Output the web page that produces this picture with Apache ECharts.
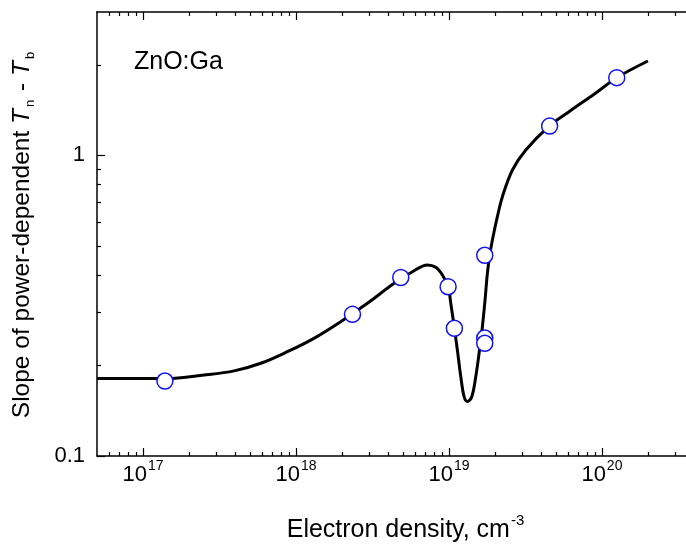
<!DOCTYPE html>
<html>
<head>
<meta charset="utf-8">
<script src="https://cdn.jsdelivr.net/npm/echarts@6/dist/echarts.min.js"></script>
<style>
  html, body { margin: 0; padding: 0; background: #ffffff; }
  #chart { width: 686px; height: 544px; }
</style>
</head>
<body>
<div id="chart"></div>
<script>
// Fitted curve: electron density (cm^-3) vs. slope of power-dependent Tn - Tb
const curveDensity = [
  5e16, 8.1e16, 1.42e17, 2.51e17, 3.94e17, 5.89e17, 8.78e17, 1.31e18, 1.96e18,
  2.93e18, 4.38e18, 5.77e18, 7.23e18, 8.2e18, 9.06e18, 9.87e18, 1.028e19,
  1.085e19, 1.135e19, 1.195e19, 1.256e19, 1.319e19, 1.41e19, 1.497e19,
  1.574e19, 1.654e19, 1.722e19, 1.783e19, 1.849e19, 1.923e19, 2.073e19, 2.236e19,
  2.6e19, 3.18e19, 4.52e19, 6.1e19, 9.12e19, 1.25e20, 2.0e20
];
const curveSlope = [
  0.181, 0.181, 0.181, 0.186, 0.192, 0.2035, 0.2223, 0.2463, 0.2798,
  0.3221, 0.3754, 0.4103, 0.4318, 0.4242, 0.400, 0.3657, 0.322,
  0.266, 0.2253, 0.1836, 0.1575, 0.1518, 0.1575, 0.1836,
  0.2196, 0.2692, 0.3304, 0.4053, 0.4664, 0.5232, 0.6254, 0.729,
  0.894, 1.042, 1.252, 1.398, 1.613, 1.814, 2.061
];

// Measured samples
const pointDensity = [1.39e17, 2.34e18, 4.84e18, 9.87e18, 1.085e19, 1.714e19, 1.714e19, 1.714e19, 4.55e19, 1.25e20];
const pointSlope   = [0.1776, 0.296, 0.3925, 0.3657, 0.266, 0.4653, 0.2469, 0.2371, 1.252, 1.814];

// Axis ranges and tick positions
const xRange = [5e16, 4e20];
const yRange = [0.1, 3];
const xMajorTicks = [1e17, 1e18, 1e19, 1e20];
const xMinorTicks = [
  6e16, 7e16, 8e16, 9e16,
  2e17, 3e17, 4e17, 5e17, 6e17, 7e17, 8e17, 9e17,
  2e18, 3e18, 4e18, 5e18, 6e18, 7e18, 8e18, 9e18,
  2e19, 3e19, 4e19, 5e19, 6e19, 7e19, 8e19, 9e19,
  2e20, 3e20
];
const yMajorTicks = [0.1, 1];
const yMinorTicks = [0.2, 0.3, 0.4, 0.5, 0.6, 0.7, 0.8, 0.9, 2];

const FONT = '"Liberation Sans", Arial, Helvetica, sans-serif';
const INK = '#000000';

const chart = echarts.init(document.getElementById('chart'), null, { renderer: 'canvas' });

function tickAxis(kind, position, ticks, len, withLine, extra) {
  const range = kind === 'x' ? xRange : yRange;
  return Object.assign({
    type: 'log',
    logBase: 10,
    position: position,
    min: range[0],
    max: range[1],
    gridIndex: 0,
    axisLine: { show: withLine, onZero: false, lineStyle: { color: INK, width: 1.5 } },
    axisTick: { show: true, inside: true, length: len, customValues: ticks, lineStyle: { color: INK, width: 1.2 } },
    axisLabel: { show: false },
    splitLine: { show: false },
    minorTick: { show: false },
    minorSplitLine: { show: false }
  }, extra || {});
}

const xMain = tickAxis('x', 'bottom', xMajorTicks, 8, true, {
  name: '{m|Electron density, cm}{s|-3}',
  nameLocation: 'middle',
  nameGap: 61,
  nameTextStyle: {
    fontFamily: FONT,
    color: INK,
    padding: [0, 0, 0, 20],
    rich: {
      m: { fontFamily: FONT, fontSize: 25, color: INK, verticalAlign: 'bottom', lineHeight: 26 },
      s: { fontFamily: FONT, fontSize: 15, color: INK, verticalAlign: 'bottom', lineHeight: 15, padding: [0, 0, 15, 1] }
    }
  },
  axisLabel: {
    show: true,
    customValues: xMajorTicks,
    margin: 8,
    fontFamily: FONT,
    color: INK,
    formatter: function (v) {
      return '{b|10}{s|' + Math.round(Math.log10(v)) + '}';
    },
    rich: {
      b: { fontFamily: FONT, fontSize: 22, color: INK, verticalAlign: 'bottom', lineHeight: 22 },
      s: { fontFamily: FONT, fontSize: 14, color: INK, verticalAlign: 'bottom', lineHeight: 14, padding: [0, 0, 13, 1] }
    }
  }
});

const yMain = tickAxis('y', 'left', yMajorTicks, 8, true, {
  name: '{m|Slope of power-dependent }{i|T}{sub|n}{m| - }{i|T}{sub|b}',
  nameLocation: 'middle',
  nameRotate: 90,
  nameGap: 62,
  nameTextStyle: {
    fontFamily: FONT,
    color: INK,
    rich: {
      m: { fontFamily: FONT, fontSize: 24.5, color: INK, verticalAlign: 'top', lineHeight: 25 },
      i: { fontFamily: FONT, fontSize: 24.5, fontStyle: 'italic', color: INK, verticalAlign: 'top', lineHeight: 25 },
      sub: { fontFamily: FONT, fontSize: 13, color: INK, verticalAlign: 'top', lineHeight: 13, padding: [14, 2, 0, 2] }
    }
  },
  axisLabel: {
    show: true,
    customValues: yMajorTicks,
    margin: 12,
    fontFamily: FONT,
    fontSize: 22,
    color: INK,
    formatter: function (v) { return String(v); }
  }
});

const option = {
  backgroundColor: '#ffffff',
  animation: false,
  grid: {
    left: 97,
    top: 12,
    right: -8,
    bottom: 88,
    containLabel: false,
    outerBoundsMode: 'none'
  },
  xAxis: [
    xMain,
    tickAxis('x', 'bottom', xMinorTicks, 4, false),
    tickAxis('x', 'top', xMajorTicks, 8, true),
    tickAxis('x', 'top', xMinorTicks, 4, false)
  ],
  yAxis: [
    yMain,
    tickAxis('y', 'left', yMinorTicks, 4, false),
    tickAxis('y', 'right', yMajorTicks, 8, true),
    tickAxis('y', 'right', yMinorTicks, 4, false)
  ],
  graphic: [
    {
      type: 'text',
      left: 134,
      top: 50,
      style: { text: 'ZnO:Ga', fontFamily: FONT, fontSize: 25, fill: INK }
    }
  ],
  series: [
    {
      type: 'line',
      name: 'fit',
      xAxisIndex: 0,
      yAxisIndex: 0,
      data: curveDensity.map((d, i) => [d, curveSlope[i]]),
      showSymbol: false,
      smooth: 0.35,
      lineStyle: { color: INK, width: 3 },
      z: 2
    },
    {
      type: 'scatter',
      name: 'data',
      xAxisIndex: 0,
      yAxisIndex: 0,
      data: pointDensity.map((d, i) => [d, pointSlope[i]]),
      symbol: 'circle',
      symbolSize: 16,
      itemStyle: { color: '#ffffff', borderColor: '#1010f0', borderWidth: 1.5, opacity: 1 },
      z: 3
    }
  ]
};

chart.setOption(option);
</script>
</body>
</html>
